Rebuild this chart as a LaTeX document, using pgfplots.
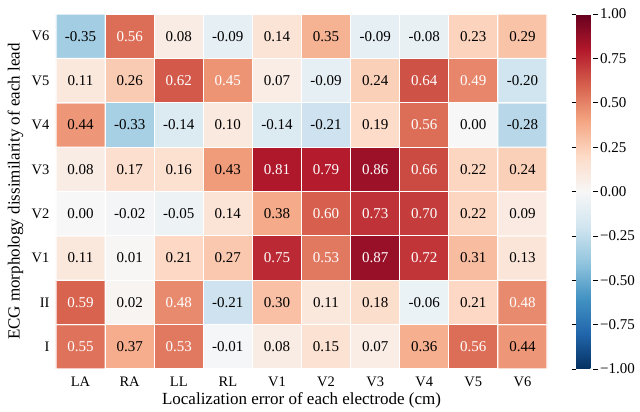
\documentclass[border=0pt]{standalone}
\usepackage{pgfplots}
\usepackage{pgfplotstable}
\pgfplotsset{compat=1.18}
\usepackage{fontspec}
\setmainfont{Liberation Serif}

\pgfplotsset{
 colormap={RdBu_r}{
   rgb255=(5,48,97) rgb255=(33,102,172) rgb255=(67,147,195) rgb255=(146,197,222)
   rgb255=(209,229,240) rgb255=(247,247,247) rgb255=(253,219,199) rgb255=(244,165,130)
   rgb255=(214,96,77) rgb255=(178,24,43) rgb255=(103,0,31)
 }
}

% rows: y=0 I, 1 II, 2 V1, 3 V2, 4 V3, 5 V4, 6 V5, 7 V6
\pgfplotstableread{
x y v
0 0 0.55
1 0 0.37
2 0 0.53
3 0 -0.01
4 0 0.08
5 0 0.15
6 0 0.07
7 0 0.36
8 0 0.56
9 0 0.44
0 1 0.59
1 1 0.02
2 1 0.48
3 1 -0.21
4 1 0.30
5 1 0.11
6 1 0.18
7 1 -0.06
8 1 0.21
9 1 0.48
0 2 0.11
1 2 0.01
2 2 0.21
3 2 0.27
4 2 0.75
5 2 0.53
6 2 0.87
7 2 0.72
8 2 0.31
9 2 0.13
0 3 0.00
1 3 -0.02
2 3 -0.05
3 3 0.14
4 3 0.38
5 3 0.60
6 3 0.73
7 3 0.70
8 3 0.22
9 3 0.09
0 4 0.08
1 4 0.17
2 4 0.16
3 4 0.43
4 4 0.81
5 4 0.79
6 4 0.86
7 4 0.66
8 4 0.22
9 4 0.24
0 5 0.44
1 5 -0.33
2 5 -0.14
3 5 0.10
4 5 -0.14
5 5 -0.21
6 5 0.19
7 5 0.56
8 5 0.00
9 5 -0.28
0 6 0.11
1 6 0.26
2 6 0.62
3 6 0.45
4 6 0.07
5 6 -0.09
6 6 0.24
7 6 0.64
8 6 0.49
9 6 -0.20
0 7 -0.35
1 7 0.56
2 7 0.08
3 7 -0.09
4 7 0.14
5 7 0.35
6 7 -0.09
7 7 -0.08
8 7 0.23
9 7 0.29
}\heat

\begin{document}
\begin{tikzpicture}
\begin{axis}[
  scale only axis,
  width=491pt, height=355pt,
  xmin=-0.5, xmax=9.5, ymin=-0.5, ymax=7.5,
  enlargelimits=false,
  xtick={0,...,9},
  xticklabels={LA,RA,LL,RL,V1,V2,V3,V4,V5,V6},
  ytick={0,...,7},
  yticklabels={I,II,V1,V2,V3,V4,V5,V6},
  major tick length=0pt,
  axis line style={draw=none},
  tick label style={font=\fontsize{14.5}{16}\selectfont},
  label style={font=\fontsize{17}{20}\selectfont},
  xlabel={Localization error of each electrode (cm)},
  ylabel={ECG morphology dissimilarity of each lead},
  xticklabel style={anchor=base, yshift=-18pt, inner sep=1pt},
  yticklabel style={xshift=-3pt, inner sep=0.333em},
  xlabel style={at={(axis description cs:0.5,-0.0986)}, anchor=base, inner sep=0pt},
  ylabel style={at={(axis description cs:-0.0741,0.5)}, anchor=base, inner sep=0pt},
  colormap name=RdBu_r,
  point meta min=-1, point meta max=1,
  colorbar,
  colorbar style={
    at={(parent axis.north east)}, anchor=north west, xshift=20.5pt,
    width=17pt,
    axis line style={draw=none},
    ytick={-1,-0.75,-0.5,-0.25,0,0.25,0.5,0.75,1},
    yticklabels={−1.00,−0.75,−0.50,−0.25,0.00,0.25,0.50,0.75,1.00},
    major tick length=4.5pt,
    tick align=outside,
    ytick style={draw=black, line width=0.6pt},
    yticklabel style={font=\fontsize{15}{17}\selectfont, anchor=west, inner sep=0pt, xshift=2.5pt},
  },
  unbounded coords=discard,
]
\addplot[matrix plot*, mesh/cols=10, mesh/rows=8, point meta=explicit,
  shader=faceted, faceted color=white, line width=1.1pt]
  table[x=x, y=y, meta=v] {\heat};
\addplot[only marks, mark=none, point meta=explicit symbolic,
  restrict expr to domain={\thisrow{v}}{-1:0.445},
  nodes near coords,
  every node near coord/.append style={anchor=center, text=black, font=\fontsize{15}{17}\selectfont}]
  table[x=x, y=y, meta=v] {\heat};
\addplot[only marks, mark=none, point meta=explicit symbolic,
  restrict expr to domain={\thisrow{v}}{0.445:1},
  nodes near coords,
  every node near coord/.append style={anchor=center, text=white, font=\fontsize{15}{17}\selectfont}]
  table[x=x, y=y, meta=v] {\heat};
\end{axis}
\pgfresetboundingbox
\path (-56pt,-43pt) rectangle (584pt,369pt);
\end{tikzpicture}
\end{document}
